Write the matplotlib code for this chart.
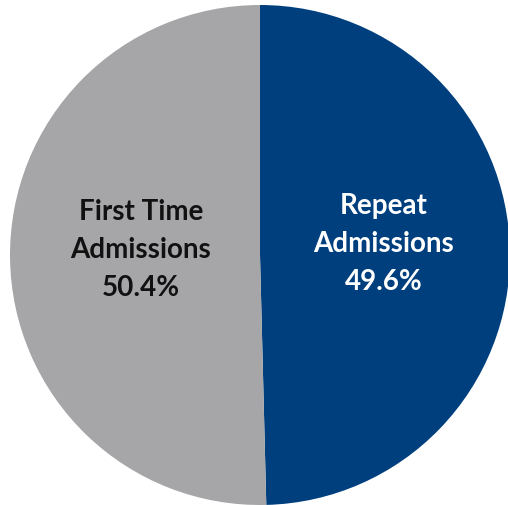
import matplotlib
matplotlib.use("Agg")
import matplotlib.pyplot as plt

labels = ["Repeat\nAdmissions", "First Time\nAdmissions"]
shares = [49.6, 50.4]
colors = ["#003F7E", "#A6A6A8"]
text_colors = ["white", "#111111"]

fig = plt.figure(figsize=(5.08, 5.06), dpi=100)
ax = fig.add_axes([10 / 508, 0, 500 / 508, 500 / 506])
wedges, _ = ax.pie(shares, colors=colors, startangle=90, counterclock=False,
                   radius=1.0, wedgeprops=dict(linewidth=0))
ax.set_xlim(-1, 1); ax.set_ylim(-1, 1)
ax.set_aspect("equal")

# label positions (fraction of radius)
pos = [(0.496, 0.048), (-0.476, 0.024)]
for (x, y), lab, s, c in zip(pos, labels, shares, text_colors):
    ax.text(x, y, f"{lab}\n{s:.1f}%", ha="center", va="center", color=c,
            fontsize=20, fontweight="bold", family="Lato", linespacing=1.55)

fig.savefig("out.png", dpi=100)
